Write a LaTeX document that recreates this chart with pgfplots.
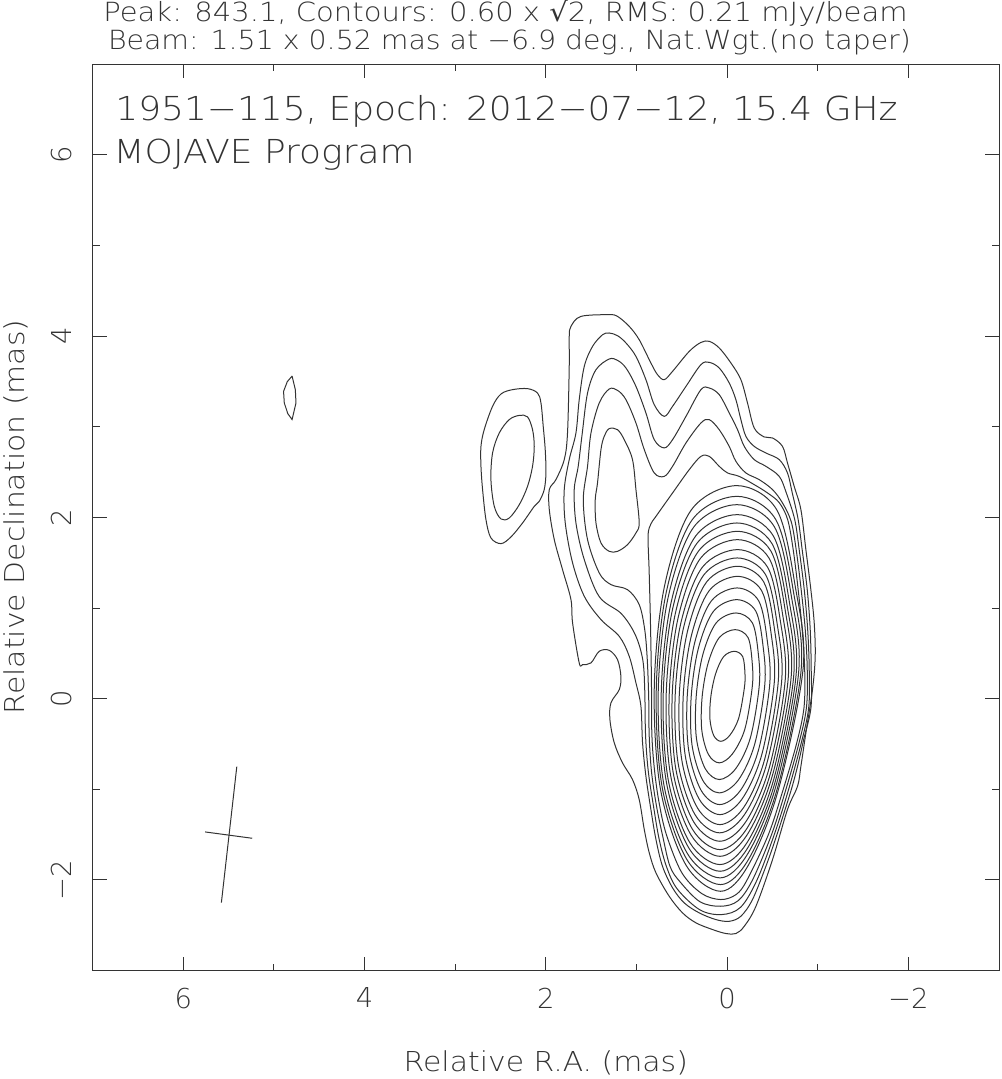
\documentclass[border=0pt]{standalone}
\usepackage{fontspec}
\IfFontExistsTF{DejaVuSans-ExtraLight.ttf}{\setmainfont{DejaVuSans-ExtraLight.ttf}}{\setmainfont{DejaVu Sans}}
\newfontfamily\regfont{DejaVu Sans}
\usepackage{graphicx}
\usepackage{pgfplots}
\pgfplotsset{compat=1.18}
\definecolor{ink}{gray}{0.2}
\pgfplotsset{ct/.style={ink, line width=0.5pt, smooth cycle, tension=0.55, mark=none}}
\begin{document}
\begin{tikzpicture}
\begin{axis}[
  at={(46.35pt,54.2pt)}, anchor=south west,
  scale only axis, width=453.15pt, height=453.15pt,
  x dir=reverse,
  xmin=-3, xmax=7, ymin=-3, ymax=7,
  xtick={-2,0,2,4,6}, xticklabels={−2,0,2,4,6},
  ytick={-2,0,2,4,6}, yticklabels={−2,0,2,4,6},
  minor x tick num=1, minor y tick num=1,
  major tick length=7pt, minor tick length=3.5pt,
  tick style={ink, line width=0.5pt},
  axis line style={ink, line width=0.5pt},
  ticklabel style={font=\fontsize{13.7}{16}\selectfont, text=ink},
  xticklabel shift=5pt,
  yticklabel style={rotate=90, anchor=south},
  yticklabel shift=7pt,
]
% L0 outer envelope
\addplot[ct] coordinates {(1.723,4.108) (1.613,4.218) (1.301,4.237) (1.209,4.218) (1.080,4.108) (0.970,3.961) (0.841,3.704) (0.768,3.575) (0.694,3.520) (0.602,3.612) (0.418,3.832) (0.289,3.931) (0.197,3.943) (0.087,3.870) (-0.042,3.704) (-0.152,3.520) (-0.225,3.263) (-0.299,2.987) (-0.409,2.888) (-0.501,2.877) (-0.611,2.784) (-0.666,2.601) (-0.740,2.343) (-0.814,2.086) (-0.869,1.645) (-0.924,1.203) (-0.961,0.836) (-0.972,0.468) (-0.942,0.100) (-0.869,-0.377) (-0.814,-0.746) (-0.777,-0.966) (-0.666,-1.223) (-0.501,-1.775) (-0.318,-2.290) (-0.189,-2.511) (-0.097,-2.591) (0.013,-2.591) (0.161,-2.547) (0.344,-2.473) (0.492,-2.363) (0.639,-2.180) (0.785,-1.922) (0.859,-1.701) (0.914,-1.444) (0.970,-1.113) (1.044,-0.892) (1.154,-0.708) (1.245,-0.488) (1.293,-0.231) (1.282,-0.046) (1.190,0.100) (1.172,0.247) (1.209,0.431) (1.301,0.534) (1.411,0.523) (1.502,0.395) (1.595,0.376) (1.632,0.395) (1.705,0.836) (1.723,1.093) (1.816,1.424) (1.907,1.755) (1.962,2.086) (1.962,2.307) (1.889,2.417) (1.797,2.638) (1.761,2.932) (1.742,3.667) (1.742,3.998)};
% L1
\addplot[ct] coordinates {(1.301,4.035) (1.209,4.005) (1.116,3.925) (1.006,3.777) (0.896,3.520) (0.804,3.244) (0.694,3.115) (0.602,3.226) (0.454,3.446) (0.289,3.686) (0.197,3.711) (0.087,3.649) (-0.023,3.484) (-0.097,3.299) (-0.152,3.079) (-0.207,2.895) (-0.299,2.784) (-0.428,2.711) (-0.575,2.638) (-0.666,2.491) (-0.718,2.274) (-0.784,1.976) (-0.828,1.645) (-0.884,1.203) (-0.917,0.762) (-0.928,0.321) (-0.925,-0.1) (-0.845,-0.45) (-0.777,-0.746) (-0.70,-1.03) (-0.55,-1.5) (-0.428,-1.849) (-0.28,-2.216) (-0.152,-2.400) (-0.023,-2.456) (0.124,-2.437) (0.308,-2.363) (0.473,-2.253) (0.602,-2.087) (0.713,-1.849) (0.785,-1.554) (0.841,-1.223) (0.896,-0.856) (0.933,-0.488) (0.951,-0.084) (1.006,0.174) (1.080,0.468) (1.190,0.688) (1.392,0.873) (1.576,1.130) (1.705,1.498) (1.786,1.939) (1.797,2.307) (1.742,2.638) (1.668,2.932) (1.632,3.299) (1.576,3.667) (1.485,3.887) (1.374,4.016)};
% L2
\addplot[ct] coordinates {(1.301,3.748) (1.209,3.733) (1.116,3.649) (1.006,3.446) (0.896,3.153) (0.804,2.858) (0.694,2.767) (0.602,2.858) (0.454,3.115) (0.289,3.410) (0.197,3.428) (0.087,3.355) (-0.023,3.153) (-0.115,2.968) (-0.189,2.784) (-0.299,2.638) (-0.428,2.564) (-0.575,2.453) (-0.652,2.274) (-0.746,1.976) (-0.795,1.645) (-0.851,1.203) (-0.889,0.762) (-0.906,0.321) (-0.90,-0.1) (-0.815,-0.5) (-0.67,-1.03) (-0.52,-1.5) (-0.33,-2.0) (-0.15,-2.3) (0.06,-2.382) (0.30,-2.33) (0.55,-2.1) (0.67,-1.85) (0.75,-1.55) (0.81,-1.2) (0.87,-0.8) (0.90,-0.4) (0.909,0.1) (0.931,0.431) (1.014,0.707) (1.168,0.939) (1.411,1.126) (1.576,1.534) (1.668,1.939) (1.687,2.307) (1.643,2.564) (1.598,2.932) (1.540,3.373) (1.447,3.630)};
% L3
\addplot[ct] coordinates {(1.301,3.417) (1.209,3.402) (1.116,3.299) (1.006,3.042) (0.914,2.748) (0.804,2.491) (0.694,2.453) (0.602,2.564) (0.454,2.822) (0.289,3.042) (0.197,3.079) (0.087,2.968) (-0.023,2.784) (-0.097,2.619) (-0.207,2.491) (-0.354,2.417) (-0.501,2.307) (-0.611,2.160) (-0.707,1.954) (-0.762,1.645) (-0.817,1.203) (-0.862,0.762) (-0.884,0.321) (-0.875,-0.1) (-0.79,-0.5) (-0.64,-1.03) (-0.49,-1.5) (-0.28,-2.0) (-0.12,-2.23) (0.07,-2.29) (0.30,-2.24) (0.52,-2.02) (0.63,-1.85) (0.71,-1.52) (0.78,-1.18) (0.835,-0.8) (0.86,-0.4) (0.865,0.0) (0.881,0.431) (0.909,0.762) (0.970,1.038) (1.099,1.203) (1.282,1.259) (1.411,1.388) (1.540,1.755) (1.587,2.196) (1.540,2.564) (1.502,2.932) (1.411,3.263)};
% L4 main
\addplot[ct] coordinates {(0.289,2.674) (0.197,2.674) (0.087,2.564) (-0.004,2.491) (-0.133,2.453) (-0.299,2.362) (-0.446,2.270) (-0.575,2.163) (-0.668,1.976) (-0.729,1.645) (-0.784,1.203) (-0.828,0.762) (-0.856,0.321) (-0.848,-0.1) (-0.765,-0.5) (-0.61,-1.03) (-0.455,-1.5) (-0.22,-2.0) (-0.1,-2.16) (0.07,-2.216) (0.28,-2.15) (0.50,-1.92) (0.67,-1.5) (0.75,-1.15) (0.80,-0.8) (0.83,-0.4) (0.835,0.2) (0.845,0.8) (0.86,1.4) (0.872,1.80) (0.84,1.93) (0.785,2.012) (0.602,2.270) (0.418,2.527)};
% L4 knot
\addplot[ct] coordinates {(1.301,2.980) (1.209,2.968) (1.135,2.858) (1.044,2.638) (1.006,2.307) (0.970,1.939) (1.006,1.829) (1.099,1.700) (1.209,1.626) (1.301,1.626) (1.392,1.719) (1.447,1.939) (1.455,2.196) (1.430,2.381) (1.392,2.748) (1.356,2.895)};
% L5 - L20 core
\addplot[ct] coordinates {(-0.108,2.351) (-0.549,2.082) (-0.753,1.232) (-0.840,0.353) (-0.565,-1.006) (-0.236,-1.834) (0.072,-2.125) (0.455,-1.834) (0.734,-1.006) (0.804,0.113) (0.693,1.232) (0.396,2.082)};
\addplot[ct] coordinates {(-0.108,2.233) (-0.537,1.976) (-0.735,1.162) (-0.817,0.321) (-0.557,-0.980) (-0.236,-1.773) (0.073,-2.051) (0.445,-1.773) (0.716,-0.980) (0.782,0.091) (0.674,1.162) (0.384,1.976)};
\addplot[ct] coordinates {(-0.108,2.141) (-0.523,1.894) (-0.712,1.112) (-0.790,0.302) (-0.543,-0.948) (-0.229,-1.709) (0.078,-1.977) (0.438,-1.709) (0.698,-0.948) (0.760,0.082) (0.652,1.112) (0.368,1.894)};
\addplot[ct] coordinates {(-0.112,2.031) (-0.510,1.795) (-0.690,1.048) (-0.762,0.274) (-0.529,-0.921) (-0.226,-1.648) (0.077,-1.904) (0.422,-1.648) (0.670,-0.921) (0.727,0.064) (0.621,1.048) (0.347,1.795)};
\addplot[ct] coordinates {(-0.109,1.939) (-0.494,1.713) (-0.667,0.997) (-0.735,0.255) (-0.515,-0.888) (-0.221,-1.586) (0.079,-1.830) (0.413,-1.586) (0.651,-0.888) (0.705,0.055) (0.600,0.997) (0.334,1.713)};
\addplot[ct] coordinates {(-0.113,1.847) (-0.481,1.632) (-0.645,0.951) (-0.707,0.244) (-0.501,-0.843) (-0.218,-1.506) (0.078,-1.739) (0.397,-1.506) (0.624,-0.843) (0.672,0.054) (0.569,0.951) (0.313,1.632)};
\addplot[ct] coordinates {(-0.114,1.755) (-0.463,1.550) (-0.617,0.900) (-0.674,0.225) (-0.482,-0.810) (-0.211,-1.443) (0.079,-1.665) (0.381,-1.443) (0.596,-0.810) (0.639,0.045) (0.539,0.900) (0.293,1.550)};
\addplot[ct] coordinates {(-0.115,1.645) (-0.446,1.452) (-0.590,0.841) (-0.641,0.206) (-0.463,-0.769) (-0.202,-1.364) (0.080,-1.573) (0.366,-1.364) (0.567,-0.769) (0.606,0.036) (0.509,0.841) (0.272,1.452)};
\addplot[ct] coordinates {(-0.112,1.553) (-0.423,1.371) (-0.557,0.795) (-0.602,0.197) (-0.436,-0.722) (-0.189,-1.283) (0.083,-1.480) (0.352,-1.283) (0.539,-0.722) (0.573,0.037) (0.478,0.795) (0.253,1.371)};
\addplot[ct] coordinates {(-0.115,1.461) (-0.403,1.290) (-0.525,0.749) (-0.564,0.186) (-0.412,-0.677) (-0.180,-1.204) (0.079,-1.389) (0.328,-1.204) (0.500,-0.677) (0.528,0.036) (0.436,0.749) (0.225,1.290)};
\addplot[ct] coordinates {(-0.115,1.350) (-0.380,1.193) (-0.489,0.693) (-0.520,0.176) (-0.381,-0.622) (-0.164,-1.108) (0.079,-1.279) (0.308,-1.108) (0.463,-0.622) (0.484,0.036) (0.395,0.693) (0.197,1.193)};
\addplot[ct] coordinates {(-0.111,1.222) (-0.349,1.079) (-0.445,0.625) (-0.470,0.157) (-0.345,-0.571) (-0.146,-1.013) (0.081,-1.168) (0.286,-1.013) (0.424,-0.571) (0.440,0.027) (0.356,0.625) (0.174,1.079)};
\addplot[ct] coordinates {(-0.106,1.093) (-0.317,0.965) (-0.399,0.560) (-0.415,0.147) (-0.303,-0.506) (-0.122,-0.900) (0.087,-1.039) (0.269,-0.900) (0.388,-0.506) (0.396,0.027) (0.316,0.560) (0.150,0.965)};
\addplot[ct] coordinates {(-0.099,0.946) (-0.279,0.836) (-0.345,0.487) (-0.354,0.137) (-0.256,-0.433) (-0.094,-0.773) (0.086,-0.892) (0.241,-0.773) (0.339,-0.433) (0.341,0.027) (0.268,0.487) (0.121,0.836)};
\addplot[ct] coordinates {(-0.089,0.762) (-0.231,0.674) (-0.277,0.395) (-0.277,0.127) (-0.194,-0.341) (-0.056,-0.612) (0.087,-0.708) (0.208,-0.612) (0.280,-0.341) (0.275,0.027) (0.209,0.395) (0.087,0.674)};
\addplot[ct] coordinates {(-0.079,0.523) (-0.172,0.464) (-0.197,0.275) (-0.189,0.110) (-0.126,-0.221) (-0.028,-0.406) (0.069,-0.470) (0.148,-0.406) (0.190,-0.221) (0.179,0.027) (0.127,0.275) (0.039,0.464)};
% left blob
\addplot[ct] coordinates {(2.495,3.362) (2.367,3.410) (2.202,3.421) (2.092,3.373) (2.054,3.263) (2.029,3.005) (2.007,2.748) (1.999,2.491) (2.018,2.307) (2.073,2.178) (2.128,2.122) (2.257,1.939) (2.385,1.785) (2.495,1.711) (2.606,1.774) (2.661,1.976) (2.698,2.307) (2.716,2.564) (2.716,2.784) (2.680,2.969) (2.588,3.226)};
\addplot[ct] coordinates {(2.293,3.126) (2.202,3.109) (2.147,2.969) (2.128,2.784) (2.147,2.564) (2.202,2.343) (2.293,2.141) (2.404,1.994) (2.495,1.983) (2.569,2.122) (2.606,2.417) (2.588,2.711) (2.514,2.932) (2.404,3.079)};
% isolated component
\addplot[ink, line width=0.5pt, sharp plot] coordinates {(4.80,3.56) (4.764,3.409) (4.757,3.263) (4.80,3.08) (4.847,3.145) (4.886,3.263) (4.894,3.391) (4.853,3.498) (4.80,3.56)};
% beam
\addplot[ink, line width=0.5pt, sharp plot] coordinates {(5.41,-0.75) (5.58,-2.25)};
\addplot[ink, line width=0.5pt, sharp plot] coordinates {(5.76,-1.47) (5.24,-1.54)};
\end{axis}
\node[anchor=base, inner sep=0, text=ink] at (252.75pt,528.5pt) {\scalebox{1.1}[1]{\fontsize{13.2}{15}\selectfont Peak: 843.1, Contours: 0.60 x {\regfont √}2, RMS: 0.21 mJy/beam}};
\node[anchor=base, inner sep=0, text=ink] at (254.75pt,514.5pt) {\scalebox{1.075}[1]{\fontsize{13.2}{15}\selectfont Beam: 1.51 x 0.52 mas at −6.9 deg., Nat.Wgt.(no taper)}};
\node[anchor=base west, inner sep=0, text=ink] at (57.5pt,479pt) {\scalebox{1.09}[1]{\fontsize{16.5}{19}\selectfont 1951−115, Epoch: 2012−07−12, 15.4 GHz}};
\node[anchor=base west, inner sep=0, text=ink] at (56.65pt,457.5pt) {\scalebox{1.09}[1]{\fontsize{16.5}{19}\selectfont MOJAVE Program}};
\node[anchor=base, inner sep=0, text=ink] at (272.9pt,3.5pt) {\scalebox{1.09}[1]{\fontsize{13.7}{16}\selectfont Relative R.A. (mas)}};
\node[anchor=base, inner sep=0, text=ink, rotate=90] at (12.5pt,281pt) {\scalebox{1.09}[1]{\fontsize{13.7}{16}\selectfont Relative Declination (mas)}};
\pgfresetboundingbox
\path[use as bounding box] (0,0) rectangle (500.5pt,539.5pt);
\end{tikzpicture}
\end{document}
